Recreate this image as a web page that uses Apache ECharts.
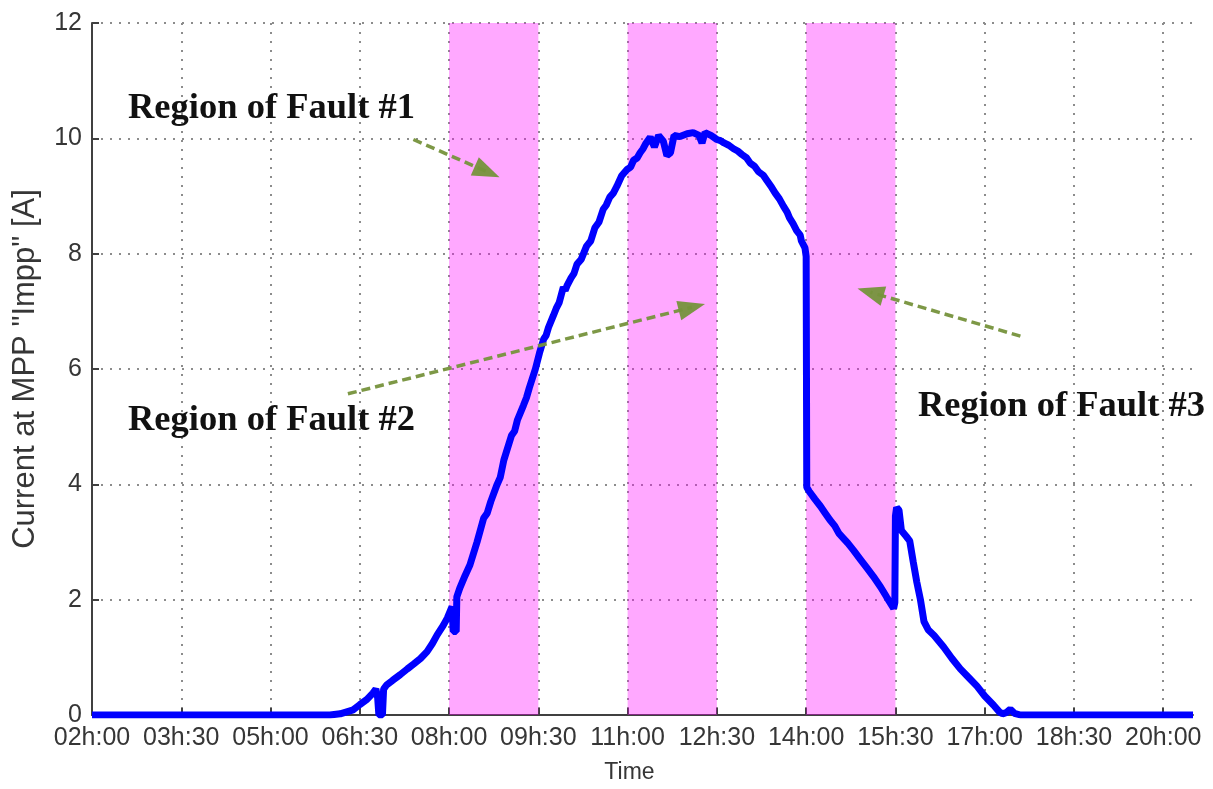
<!DOCTYPE html>
<html>
<head>
<meta charset="utf-8">
<script src="https://cdn.jsdelivr.net/npm/echarts@6/dist/echarts.min.js"></script>
<style>
  html, body { margin: 0; padding: 0; background: #fff; }
  #chart { width: 1213px; height: 789px; }
</style>
</head>
<body>
<div id="chart"></div>
<script>
// Time of day in hours (decimal) and PV current at the maximum power point
const timeHours = [
  2.0, 6.0, 6.17, 6.39, 6.5, 6.62, 6.72, 6.77, 6.80, 6.82, 6.88, 6.90, 6.95, 7.05, 7.18, 7.30, 7.40, 7.52,
  7.63, 7.72, 7.80, 7.90, 7.97, 8.05, 8.07, 8.12, 8.13, 8.18, 8.27, 8.35, 8.47, 8.58, 8.64, 8.70, 8.80,
  8.86, 8.92, 9.05, 9.10, 9.15, 9.25, 9.30, 9.35, 9.45, 9.52, 9.59, 9.63, 9.67, 9.75, 9.80, 9.85, 9.92,
  9.95, 9.98, 10.05, 10.10, 10.15, 10.22, 10.31, 10.38, 10.45, 10.52, 10.59, 10.64, 10.70, 10.76,
  10.82, 10.90, 10.99, 11.05, 11.10, 11.16, 11.21, 11.26, 11.30, 11.38, 11.45, 11.52, 11.60, 11.66,
  11.72, 11.78, 11.88, 12.0, 12.1, 12.2, 12.25, 12.3, 12.4, 12.5, 12.56, 12.62, 12.70, 12.78, 12.85,
  12.92, 13.0, 13.06, 13.13, 13.2, 13.28, 13.34, 13.42, 13.48, 13.55, 13.62, 13.68, 13.72, 13.78,
  13.84, 13.90, 13.92, 13.98, 14.0, 14.01, 14.05, 14.15, 14.24, 14.32, 14.40, 14.48, 14.55, 14.63,
  14.70, 14.80, 14.91, 15.02, 15.13, 15.25, 15.35, 15.47, 15.49, 15.50, 15.52, 15.56, 15.60, 15.68,
  15.74, 15.80, 15.86, 15.92, 15.98, 16.05, 16.15, 16.31, 16.45, 16.59, 16.73, 16.87, 17.0, 17.15,
  17.25, 17.30, 17.36, 17.43, 17.50, 17.6, 20.5
];
const currentImpp = [
  0, 0, 0.02, 0.09, 0.18, 0.27, 0.38, 0.45, 0.30, 0.0, 0.0, 0.45, 0.52, 0.60, 0.70, 0.80, 0.88, 0.98,
  1.10, 1.24, 1.39, 1.55, 1.68, 1.88, 1.45, 1.45, 2.05, 2.20, 2.42, 2.60, 3.00, 3.41, 3.50, 3.70, 3.98,
  4.12, 4.42, 4.85, 4.92, 5.12, 5.37, 5.50, 5.68, 6.00, 6.28, 6.52, 6.58, 6.72, 6.92, 7.05, 7.15, 7.42,
  7.36, 7.44, 7.58, 7.66, 7.82, 7.90, 8.13, 8.22, 8.45, 8.55, 8.77, 8.84, 8.98, 9.05,
  9.17, 9.35, 9.46, 9.50, 9.62, 9.66, 9.75, 9.82, 9.90, 10.02, 9.85, 10.05, 9.95, 9.70,
  9.75, 10.05, 10.03, 10.08, 10.10, 10.05, 9.92, 10.10, 10.05, 9.98, 9.96, 9.92, 9.88, 9.82, 9.78,
  9.72, 9.66, 9.57, 9.52, 9.42, 9.36, 9.27, 9.15, 9.05, 8.95, 8.82, 8.72, 8.62, 8.52,
  8.40, 8.32, 8.22, 8.10, 7.95, 3.95, 3.88, 3.74, 3.62, 3.50, 3.38, 3.28, 3.15, 3.06,
  2.98, 2.85, 2.70, 2.55, 2.40, 2.22, 2.05, 1.85, 1.95, 3.45, 3.60, 3.55, 3.20, 3.10,
  3.02, 2.65, 2.30, 2.00, 1.62, 1.48, 1.38, 1.18, 0.98, 0.80, 0.65, 0.50, 0.33, 0.17,
  0.05, 0.02, 0.04, 0.10, 0.03, 0.0, 0
];

// Fault windows [start, end] in hours
const faultWindows = [[8.0, 9.5], [11.0, 12.5], [14.0, 15.5]];

// Arrow annotations: [from, to] in axis units (hours, amperes)
const faultArrows = [
  [[7.40, 9.98], [8.64, 9.42]],
  [[6.30, 5.57], [12.08, 7.07]],
  [[17.60, 6.57], [15.08, 7.33]]
];

const xTicks = { min: 2, max: 20.5, step: 1.5 };
const yTicks = { min: 0, max: 12, step: 2 };

function pad2(n) { return (n < 10 ? '0' : '') + n; }
function hourLabel(v) {
  const h = Math.floor(v + 1e-9);
  const m = Math.round((v - h) * 60);
  return pad2(h) + 'h:' + pad2(m);
}

const seriesData = timeHours.map((t, i) => [t, currentImpp[i]]);

const gridLine = { color: '#8c8c8c', width: 2, type: [2, 7] };
const tickFont = { fontFamily: 'Liberation Sans', fontSize: 25, color: '#363636' };
const noteFont = 'bold 36.5px "Liberation Serif"';
const arrowGreen = '#76923c';

const chart = echarts.init(document.getElementById('chart'), null, { renderer: 'canvas' });

chart.setOption({
  backgroundColor: '#ffffff',
  animation: false,
  grid: { left: 92, right: 20, top: 23, bottom: 72, containLabel: false },
  xAxis: {
    type: 'value',
    min: xTicks.min, max: xTicks.max, interval: xTicks.step,
    name: 'Time',
    nameLocation: 'middle',
    nameGap: 46,
    nameTextStyle: { fontFamily: 'Liberation Sans', fontSize: 23, color: '#363636', padding: [0, 26, 0, 0] },
    axisLine: { show: true, onZero: false, lineStyle: { color: '#404040', width: 2 } },
    axisTick: { show: true, inside: true, length: 7, lineStyle: { color: '#404040', width: 2 } },
    axisLabel: Object.assign({ margin: 11, formatter: hourLabel, showMaxLabel: false }, tickFont),
    splitLine: { show: true, showMaxLine: false, lineStyle: gridLine }
  },
  yAxis: {
    type: 'value',
    min: yTicks.min, max: yTicks.max, interval: yTicks.step,
    name: 'Current at MPP "Impp" [A]',
    nameLocation: 'middle',
    nameGap: 51,
    nameTextStyle: { fontFamily: 'Liberation Sans', fontSize: 31, color: '#363636' },
    axisLine: { show: true, lineStyle: { color: '#404040', width: 2 } },
    axisTick: { show: true, inside: true, length: 7, lineStyle: { color: '#404040', width: 2 } },
    axisLabel: Object.assign({ margin: 10 }, tickFont),
    splitLine: { show: true, lineStyle: gridLine }
  },
  series: [
    {
      // shaded fault windows
      type: 'line',
      z: 1,
      data: [],
      silent: true,
      markArea: {
        silent: true,
        itemStyle: { color: 'rgba(255,0,255,0.34)' },
        data: faultWindows.map(w => [{ xAxis: w[0] }, { xAxis: w[1] }])
      }
    },
    {
      name: 'Impp',
      type: 'line',
      z: 3,
      data: seriesData,
      showSymbol: false,
      symbol: 'none',
      lineStyle: { color: '#0000ff', width: 7 },
      itemStyle: { color: '#0000ff' }
    },
    {
      // dashed arrows pointing into the fault windows
      type: 'line',
      z: 4,
      data: [],
      silent: true,
      markLine: {
        silent: true,
        symbol: ['none', 'triangle'],
        symbolSize: [20, 27],
        label: { show: false },
        lineStyle: { color: arrowGreen, width: 3.5, type: [9, 5], opacity: 0.95 },
        itemStyle: { color: arrowGreen },
        data: faultArrows.map(a => [{ coord: a[0] }, { coord: a[1] }])
      }
    }
  ],
  graphic: [
    { type: 'text', x: 128, y: 109, z: 10, style: { text: 'Region of Fault #1', font: noteFont, fill: '#111', textVerticalAlign: 'middle' } },
    { type: 'text', x: 128, y: 421, z: 10, style: { text: 'Region of Fault #2', font: noteFont, fill: '#111', textVerticalAlign: 'middle' } },
    { type: 'text', x: 918, y: 407, z: 10, style: { text: 'Region of Fault #3', font: noteFont, fill: '#111', textVerticalAlign: 'middle' } }
  ]
});
</script>
</body>
</html>
